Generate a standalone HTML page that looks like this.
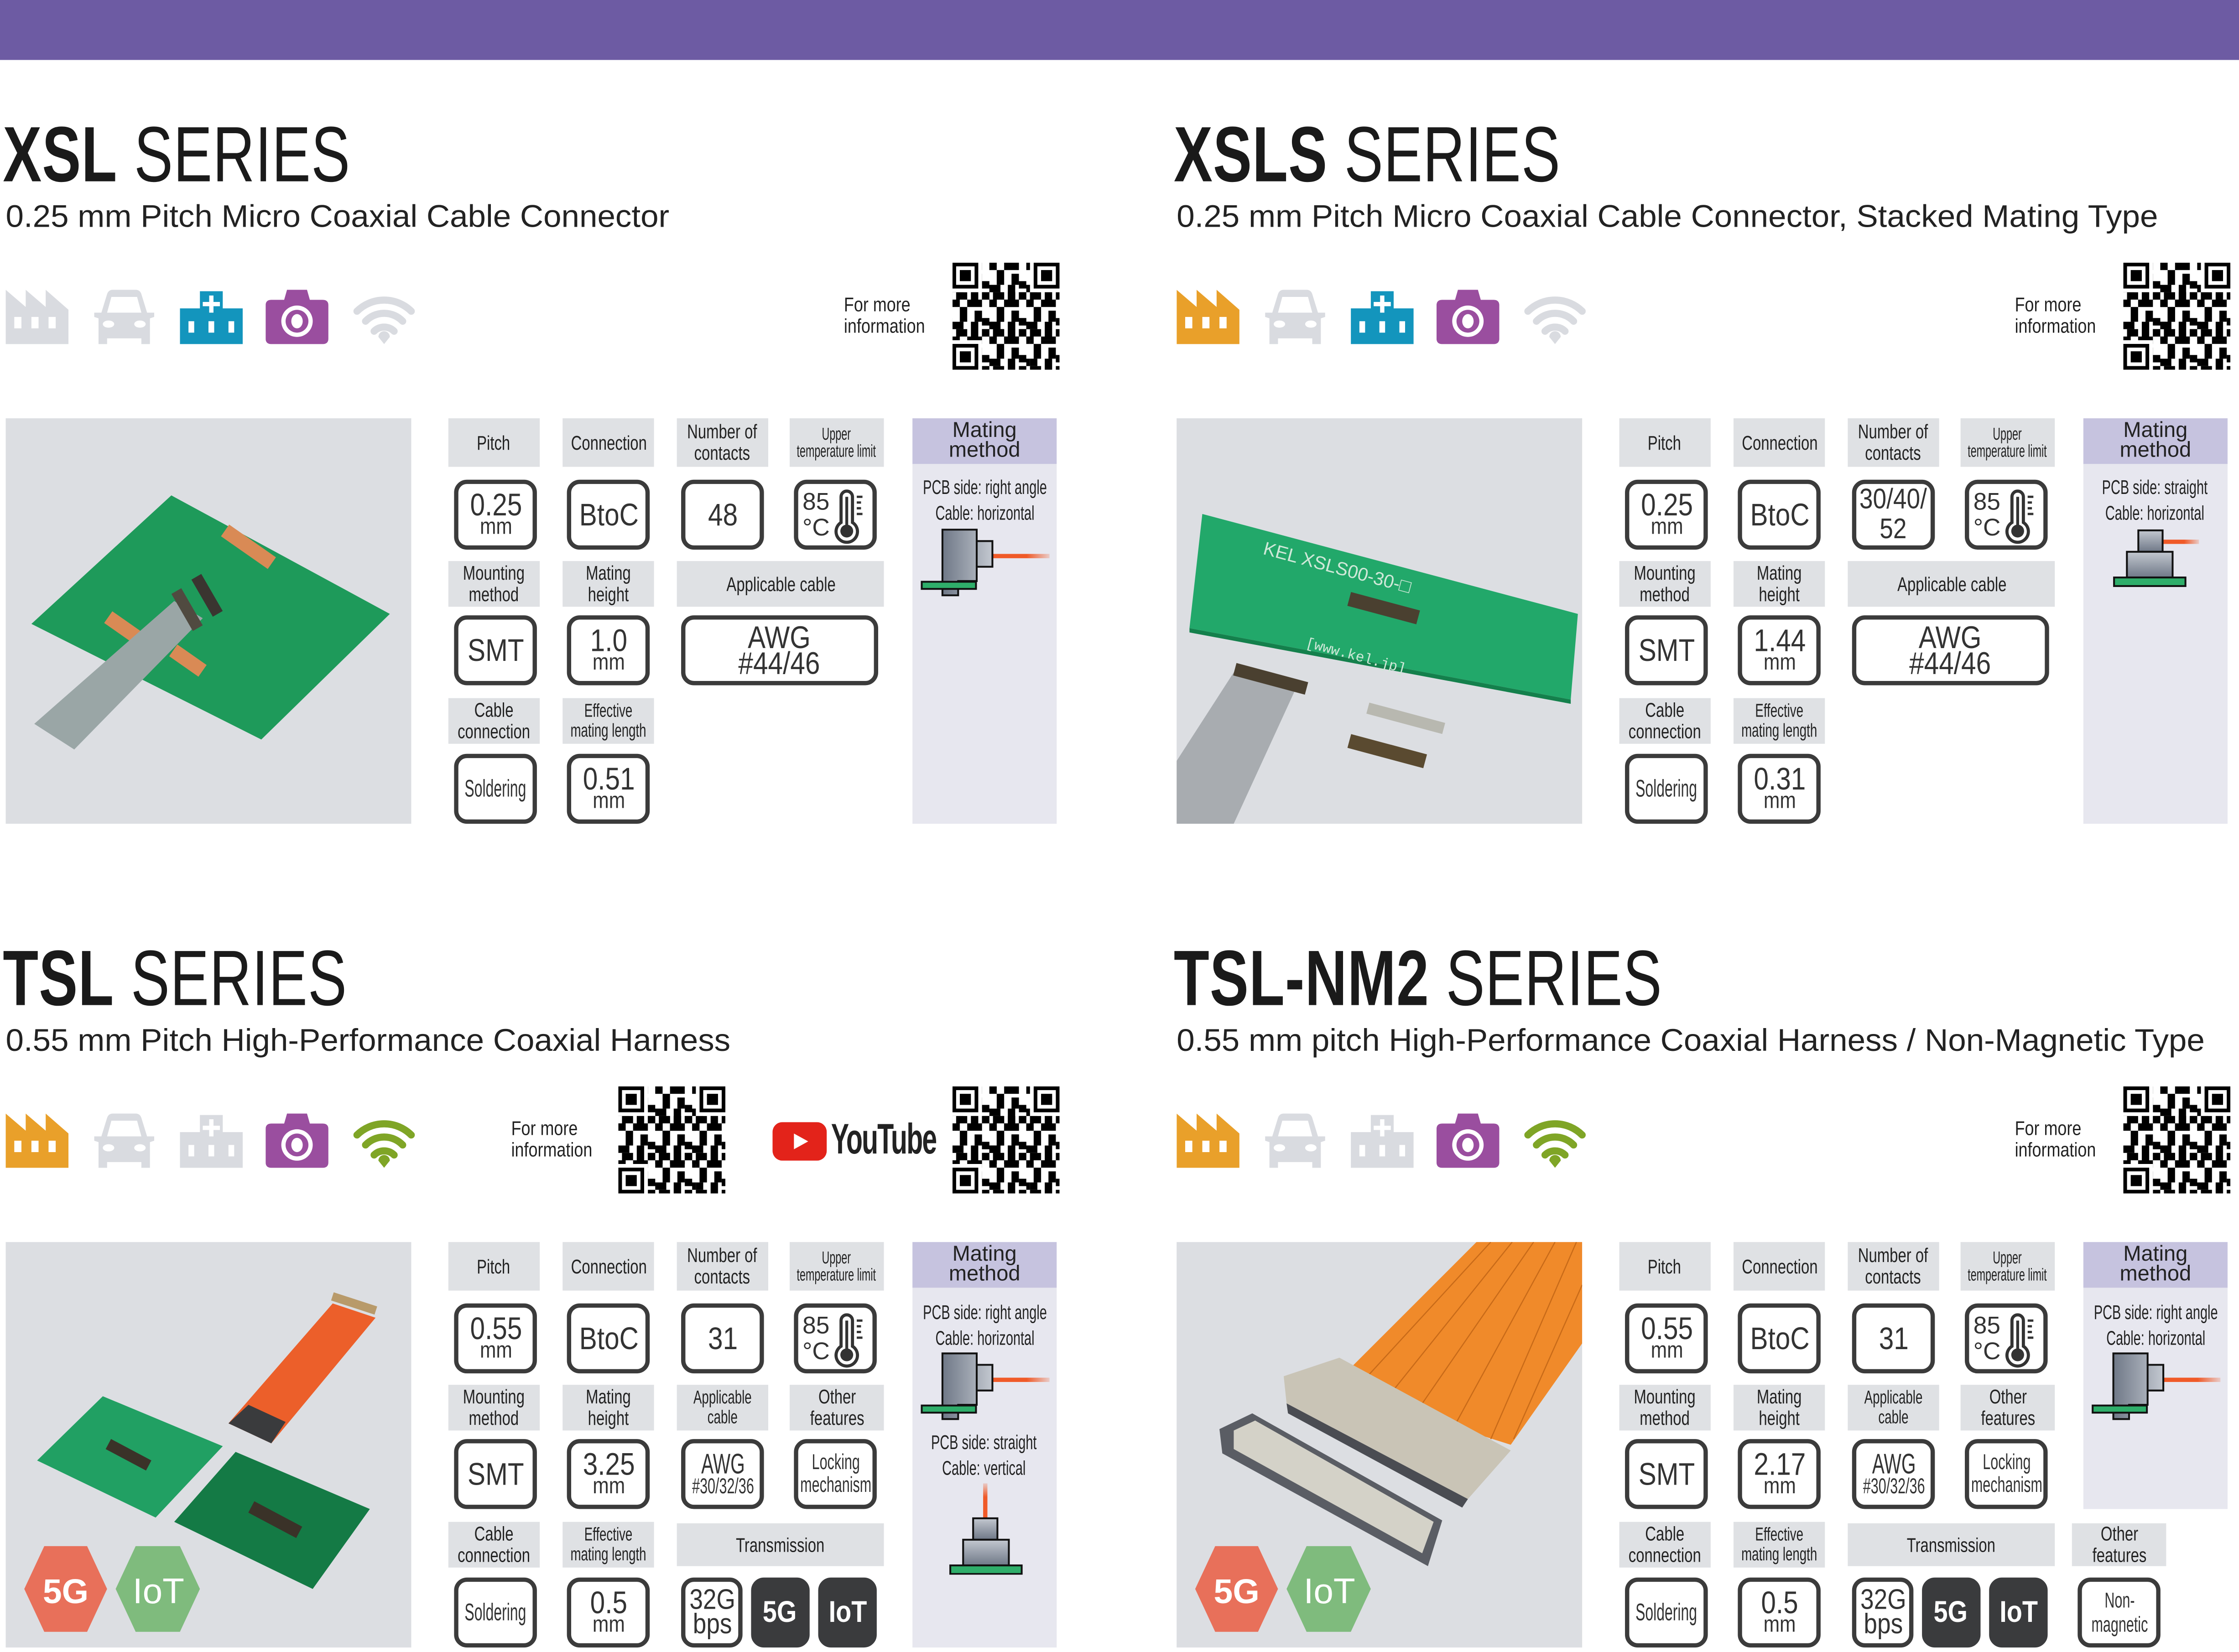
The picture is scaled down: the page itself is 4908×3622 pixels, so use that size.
<!DOCTYPE html>
<html><head><meta charset="utf-8">
<style>
html,body{margin:0;padding:0;background:#fff;}
body{width:4908px;height:3619px;overflow:hidden;position:relative;}
#s{position:absolute;left:0;top:0;width:1568px;height:1157px;transform:scale(3.1301);transform-origin:0 0;font-family:"Liberation Sans",sans-serif;color:#1a1a1a;}
.bar{position:absolute;left:0;top:0;width:1568px;height:42px;background:#6d5ba3;}
.p{position:absolute;width:784px;height:578px;}
.p>*{position:absolute;}
.ttl{top:80px;left:2px;font-size:55px;line-height:56px;white-space:nowrap;transform:scaleX(0.74);transform-origin:0 0;letter-spacing:0.5px}
.ttl b{font-weight:bold}
.sub{top:139px;left:4px;font-size:22px;line-height:26px;white-space:nowrap;transform:scaleX(1.03);transform-origin:0 0;color:#222}
.ic{top:202px;width:44px;height:40px}
.fm{font-size:14px;line-height:15px;color:#222;text-align:left;white-space:nowrap;transform:scaleX(0.82);transform-origin:0 0}
.qr{width:75px;height:75px}
.ph{left:4px;top:293px;width:284px;height:284px;background:#dcdee2}
span{display:inline-block;white-space:nowrap;transform:scaleX(.75)}
.l{background:#dfe1e4;display:flex;align-items:center;justify-content:center;text-align:center;font-size:14px;line-height:15px;color:#222}
.l.s span{transform:scaleX(.62)}
.l.s{font-size:12px;line-height:12px}
.l.e span{transform:scaleX(.68)}
.l.e{font-size:13px;line-height:14px}
.v{border:3px solid #3b3b3b;border-radius:9px;background:#fff;box-sizing:border-box;display:flex;align-items:center;justify-content:center;color:#333;font-size:22px;line-height:18px;text-align:center;width:58px;height:49px}
.v span{transform:scaleX(.85)}
.v small{display:block;font-size:16px;line-height:14px}
.v.n{font-size:17px;line-height:17px}
.v.n span{transform:scaleX(.6)}
.v.k{font-size:15px;line-height:16px}
.v.k span{transform:scaleX(.65)}
.v.d{background:#3a3b3d;border-color:#3a3b3d;color:#fff;font-size:21px;font-weight:bold}
.mh{background:#c6c3df;display:flex;align-items:center;justify-content:center;text-align:center;font-size:15px;line-height:14px;color:#222}
.mb{background:#e7e7ef}
.mt{font-size:14px;line-height:18px;color:#222;text-align:center;width:101px;display:flex;justify-content:center}
.mt span{transform:scaleX(.66)}
</style></head><body>
<svg width="0" height="0" style="position:absolute">
<defs>
<symbol id="fac" viewBox="0 0 44 38"><path d="M0 38V0l14 12V0l14 12V0l16 14v24z" fill="currentColor"/><rect x="6" y="19" width="5" height="8" fill="#fff"/><rect x="18" y="19" width="5" height="8" fill="#fff"/><rect x="30" y="19" width="5" height="8" fill="#fff"/></symbol>
<symbol id="car" viewBox="0 0 44 38"><path d="M4 38V20l-3-1v-3l5 0 4-13q1-3 4-3h16q3 0 4 3l4 13 5 0v3l-3 1v18h-6v-4H10v4z" fill="currentColor"/><path d="M10 16l3-11h18l3 11z" fill="#fff"/><ellipse cx="11" cy="24" rx="4" ry="2.5" fill="#fff"/><ellipse cx="33" cy="24" rx="4" ry="2.5" fill="#fff"/></symbol>
<symbol id="hos" viewBox="0 0 44 38"><path d="M0 38V13h14V1h16v12h14v25z" fill="currentColor"/><rect x="20.5" y="4" width="3" height="12" fill="#fff"/><rect x="16" y="8.5" width="12" height="3" fill="#fff"/><rect x="6" y="22" width="4" height="8" fill="#fff"/><rect x="20" y="22" width="4" height="8" fill="#fff"/><rect x="34" y="22" width="4" height="8" fill="#fff"/></symbol>
<symbol id="cam" viewBox="0 0 44 38"><path d="M0 11q0-4 4-4h9l2-7h14l2 7h9q4 0 4 4v23q0 4-4 4H4q-4 0-4-4z" fill="currentColor"/><circle cx="22" cy="22" r="11" fill="#fff"/><circle cx="22" cy="22" r="8" fill="currentColor"/><ellipse cx="22" cy="22" rx="4" ry="5" fill="#fff"/></symbol>
<symbol id="wif" viewBox="0 0 44 38"><g fill="none" stroke="currentColor" stroke-width="5" stroke-linecap="round"><path d="M3 15A27 27 0 0 1 41 15"/><path d="M9 22A18 18 0 0 1 35 22"/><path d="M15 29A10 10 0 0 1 29 29"/></g><path d="M18 33a4 4 0 0 1 8 0l-4 5z" fill="currentColor"/></symbol>
<pattern id="qp" width="10" height="10" patternUnits="userSpaceOnUse"><rect x="0" y="0" width="2" height="2"/><rect x="4" y="0" width="4" height="2"/><rect x="2" y="2" width="2" height="4"/><rect x="6" y="3" width="2" height="3"/><rect x="0" y="6" width="3" height="2"/><rect x="5" y="6" width="2" height="4"/><rect x="8" y="5" width="2" height="2"/><rect x="1" y="8" width="3" height="2"/><rect x="8" y="8" width="2" height="2"/></pattern>
<symbol id="qr" viewBox="0 0 29 29"><rect x="8" y="0" width="13" height="29" fill="url(#qp)"/><rect x="0" y="8" width="29" height="13" fill="url(#qp)"/><rect x="21" y="21" width="8" height="8" fill="url(#qp)"/><g><rect x="0" y="0" width="7" height="7"/><rect x="1" y="1" width="5" height="5" fill="#fff"/><rect x="2" y="2" width="3" height="3"/><rect x="22" y="0" width="7" height="7"/><rect x="23" y="1" width="5" height="5" fill="#fff"/><rect x="24" y="2" width="3" height="3"/><rect x="0" y="22" width="7" height="7"/><rect x="1" y="23" width="5" height="5" fill="#fff"/><rect x="2" y="24" width="3" height="3"/></g></symbol>
<symbol id="th" viewBox="0 0 52 43"><text x="3" y="18" font-family="Liberation Sans" font-size="17" fill="#333">85</text><text x="3" y="36" font-family="Liberation Sans" font-size="17" fill="#333">°C</text><path d="M30 27V9a4 4 0 0 1 8 0v18a7.5 7.5 0 1 1 -8 0z" fill="none" stroke="#333" stroke-width="2.2"/><rect x="33" y="9" width="2" height="20" fill="#333"/><circle cx="34" cy="33" r="4.5" fill="#333"/><g stroke="#333" stroke-width="1.6"><line x1="41" y1="9" x2="45" y2="9"/><line x1="41" y1="13" x2="44" y2="13"/><line x1="41" y1="17" x2="44" y2="17"/><line x1="41" y1="21" x2="45" y2="21"/></g></symbol>
<linearGradient id="gb" x1="0" x2="1" y1="0" y2="0"><stop offset="0" stop-color="#6f7887"/><stop offset="1" stop-color="#c3c8d0"/></linearGradient>
<linearGradient id="gv" x1="0" x2="0" y1="0" y2="1"><stop offset="0" stop-color="#c3c8d0"/><stop offset="1" stop-color="#6f7887"/></linearGradient>
<linearGradient id="go" x1="0" x2="1"><stop offset="0.6" stop-color="#f05a28"/><stop offset="1" stop-color="#f05a28" stop-opacity="0.2"/></linearGradient>
<linearGradient id="gou" x1="0" x2="0" y1="1" y2="0"><stop offset="0.6" stop-color="#f05a28"/><stop offset="1" stop-color="#f05a28" stop-opacity="0.2"/></linearGradient>
<symbol id="ra" viewBox="0 0 101 50"><rect x="56" y="18" width="40" height="3" fill="url(#go)"/><path d="M21 1h24v8h11v18H45v10H32v10H21z" fill="url(#gb)" stroke="#111" stroke-width="1.3"/><line x1="45" y1="9" x2="45" y2="27" stroke="#111" stroke-width="1.3"/><rect x="6.5" y="37.5" width="38" height="5" fill="#2fae6a" stroke="#111" stroke-width="1.3"/></symbol>
<symbol id="sh" viewBox="0 0 101 50"><rect x="55" y="8" width="26" height="3" fill="url(#go)"/><rect x="38.5" y="1.5" width="17" height="15" fill="url(#gv)" stroke="#111" stroke-width="1.3"/><rect x="30.5" y="16.5" width="32" height="18" fill="url(#gv)" stroke="#111" stroke-width="1.3"/><rect x="21.5" y="34.5" width="50" height="6" fill="#2fae6a" stroke="#111" stroke-width="1.3"/></symbol>
<symbol id="sv" viewBox="0 0 101 64"><rect x="49.5" y="0" width="3" height="24" fill="url(#gou)"/><rect x="42.5" y="24.5" width="17" height="15" fill="url(#gv)" stroke="#111" stroke-width="1.3"/><rect x="35.5" y="39.5" width="32" height="18" fill="url(#gv)" stroke="#111" stroke-width="1.3"/><rect x="26.5" y="57.5" width="50" height="6" fill="#2fae6a" stroke="#111" stroke-width="1.3"/></symbol>
</defs></svg>

<div id="s">
<div class="bar"></div>

<!-- XSL -->
<div class="p" style="left:0;top:0">
 <div class="ttl"><b>XSL</b> SERIES</div>
 <div class="sub">0.25 mm Pitch Micro Coaxial Cable Connector</div>
 <svg class="ic" style="left:4px;color:#d9dbe0"><use href="#fac"/></svg>
 <svg class="ic" style="left:65px;color:#d9dbe0"><use href="#car"/></svg>
 <svg class="ic" style="left:126px;color:#1395bd"><use href="#hos"/></svg>
 <svg class="ic" style="left:186px;color:#9a4e9f"><use href="#cam"/></svg>
 <svg class="ic" style="left:247px;color:#d9dbe0"><use href="#wif"/></svg>
 <div class="fm" style="left:591px;top:206px">For more<br>information</div>
 <svg class="qr" style="left:667px;top:184px"><use href="#qr"/></svg>
 <svg class="ph" viewBox="0 0 284 284"><polygon points="116,54 18,144 179,225 269,137" fill="#1e9a5a"/><g fill="#d98a55"><rect x="150" y="85" width="40" height="10" transform="rotate(35 170 90)"/><rect x="70" y="140" width="25" height="10" transform="rotate(35 80 145)"/><rect x="115" y="165" width="25" height="10" transform="rotate(35 128 170)"/></g><polygon points="118,128 138,140 48,232 20,214" fill="#9aa6a6"/><rect x="126" y="120" width="30" height="8" fill="#3a3530" transform="rotate(60 141 124)"/><rect x="112" y="130" width="30" height="8" fill="#504a40" transform="rotate(60 127 134)"/></svg>
 <div class="l" style="left:314px;top:293px;width:64px;height:34px"><span>Pitch</span></div>
 <div class="l" style="left:394px;top:293px;width:64px;height:34px"><span>Connection</span></div>
 <div class="l" style="left:474px;top:293px;width:64px;height:34px"><span>Number of<br>contacts</span></div>
 <div class="l s" style="left:553px;top:293px;width:66px;height:34px"><span>Upper<br>temperature limit</span></div>
 <div class="v" style="left:318px;top:336px"><span>0.25<small>mm</small></span></div>
 <div class="v" style="left:397px;top:336px"><span>BtoC</span></div>
 <div class="v" style="left:477px;top:336px"><span>48</span></div>
 <div class="v" style="left:556px;top:336px"><svg width="52" height="43"><use href="#th"/></svg></div>
 <div class="l" style="left:314px;top:393px;width:64px;height:32px"><span>Mounting<br>method</span></div>
 <div class="l" style="left:394px;top:393px;width:64px;height:32px"><span>Mating<br>height</span></div>
 <div class="l" style="left:474px;top:393px;width:145px;height:32px"><span>Applicable cable</span></div>
 <div class="v" style="left:318px;top:431px"><span>SMT</span></div>
 <div class="v" style="left:397px;top:431px"><span>1.0<small>mm</small></span></div>
 <div class="v" style="left:477px;top:431px;width:138px"><span>AWG<br>#44/46</span></div>
 <div class="l" style="left:314px;top:489px;width:64px;height:32px"><span>Cable<br>connection</span></div>
 <div class="l e" style="left:394px;top:489px;width:64px;height:32px"><span>Effective<br>mating length</span></div>
 <div class="v n" style="left:318px;top:528px"><span>Soldering</span></div>
 <div class="v" style="left:397px;top:528px"><span>0.51<small>mm</small></span></div>
 <div class="mb" style="left:639px;top:325px;width:101px;height:252px"></div>
 <div class="mh" style="left:639px;top:293px;width:101px;height:32px">Mating<br>method</div>
 <div class="mt" style="left:639px;top:332px"><span>PCB side: right angle<br>Cable: horizontal</span></div>
 <svg style="left:639px;top:370px;width:101px;height:50px"><use href="#ra"/></svg>
</div>

<!-- XSLS -->
<div class="p" style="left:820px;top:0">
 <div class="ttl"><b>XSLS</b> SERIES</div>
 <div class="sub">0.25 mm Pitch Micro Coaxial Cable Connector, Stacked Mating Type</div>
 <svg class="ic" style="left:4px;color:#e9a02a"><use href="#fac"/></svg>
 <svg class="ic" style="left:65px;color:#d9dbe0"><use href="#car"/></svg>
 <svg class="ic" style="left:126px;color:#1395bd"><use href="#hos"/></svg>
 <svg class="ic" style="left:186px;color:#9a4e9f"><use href="#cam"/></svg>
 <svg class="ic" style="left:247px;color:#d9dbe0"><use href="#wif"/></svg>
 <div class="fm" style="left:591px;top:206px">For more<br>information</div>
 <svg class="qr" style="left:667px;top:184px"><use href="#qr"/></svg>
 <svg class="ph" viewBox="0 0 284 284"><polygon points="18,67 281,137 276,197 9,147" fill="#22a86a"/><polygon points="9,147 276,197 276,200 9,150" fill="#14804c"/><text x="60" y="95" font-family="Liberation Sans" font-size="13" fill="#cfe8d8" transform="rotate(15 60 95)">KEL   XSLS00-30-□</text><text x="90" y="160" font-family="Liberation Mono" font-size="10" fill="#cfe8d8" transform="rotate(15 90 160)">[www.kel.jp]</text><rect x="120" y="128" width="50" height="10" fill="#4a4030" transform="rotate(15 145 133)"/><polygon points="0,284 0,240 40,178 85,186 40,284" fill="#a8acb0"/><rect x="40" y="178" width="52" height="9" fill="#4a4030" transform="rotate(15 66 182)"/><rect x="133" y="206" width="55" height="8" fill="#b8b8b0" transform="rotate(15 160 210)"/><rect x="120" y="228" width="55" height="10" fill="#5a4a30" transform="rotate(15 147 233)"/></svg>
 <div class="l" style="left:314px;top:293px;width:64px;height:34px"><span>Pitch</span></div>
 <div class="l" style="left:394px;top:293px;width:64px;height:34px"><span>Connection</span></div>
 <div class="l" style="left:474px;top:293px;width:64px;height:34px"><span>Number of<br>contacts</span></div>
 <div class="l s" style="left:553px;top:293px;width:66px;height:34px"><span>Upper<br>temperature limit</span></div>
 <div class="v" style="left:318px;top:336px"><span>0.25<small>mm</small></span></div>
 <div class="v" style="left:397px;top:336px"><span>BtoC</span></div>
 <div class="v" style="left:477px;top:336px;font-size:20px;line-height:21px"><span>30/40/<br>52</span></div>
 <div class="v" style="left:556px;top:336px"><svg width="52" height="43"><use href="#th"/></svg></div>
 <div class="l" style="left:314px;top:393px;width:64px;height:32px"><span>Mounting<br>method</span></div>
 <div class="l" style="left:394px;top:393px;width:64px;height:32px"><span>Mating<br>height</span></div>
 <div class="l" style="left:474px;top:393px;width:145px;height:32px"><span>Applicable cable</span></div>
 <div class="v" style="left:318px;top:431px"><span>SMT</span></div>
 <div class="v" style="left:397px;top:431px"><span>1.44<small>mm</small></span></div>
 <div class="v" style="left:477px;top:431px;width:138px"><span>AWG<br>#44/46</span></div>
 <div class="l" style="left:314px;top:489px;width:64px;height:32px"><span>Cable<br>connection</span></div>
 <div class="l e" style="left:394px;top:489px;width:64px;height:32px"><span>Effective<br>mating length</span></div>
 <div class="v n" style="left:318px;top:528px"><span>Soldering</span></div>
 <div class="v" style="left:397px;top:528px"><span>0.31<small>mm</small></span></div>
 <div class="mb" style="left:639px;top:325px;width:101px;height:252px"></div>
 <div class="mh" style="left:639px;top:293px;width:101px;height:32px">Mating<br>method</div>
 <div class="mt" style="left:639px;top:332px"><span>PCB side: straight<br>Cable: horizontal</span></div>
 <svg style="left:639px;top:370px;width:101px;height:50px"><use href="#sh"/></svg>
</div>

<!-- TSL -->
<div class="p" style="left:0;top:577px">
 <div class="ttl"><b>TSL</b> SERIES</div>
 <div class="sub">0.55 mm Pitch High-Performance Coaxial Harness</div>
 <svg class="ic" style="left:4px;color:#e9a02a"><use href="#fac"/></svg>
 <svg class="ic" style="left:65px;color:#d9dbe0"><use href="#car"/></svg>
 <svg class="ic" style="left:126px;color:#d9dbe0"><use href="#hos"/></svg>
 <svg class="ic" style="left:186px;color:#9a4e9f"><use href="#cam"/></svg>
 <svg class="ic" style="left:247px;color:#7fa526"><use href="#wif"/></svg>
 <div class="fm" style="left:358px;top:206px">For more<br>information</div>
 <svg class="qr" style="left:433px;top:184px"><use href="#qr"/></svg>
 <svg style="left:541px;top:209px;width:38px;height:27px" viewBox="0 0 38 27"><rect x="0" y="0" width="38" height="27" rx="7" fill="#e3231a"/><path d="M15 8l10 5.5-10 5.5z" fill="#fff"/></svg>
 <div style="left:582px;top:205px;font-weight:bold;font-size:30px;line-height:34px;color:#222;letter-spacing:-1px;white-space:nowrap;transform:scaleX(.63);transform-origin:0 0">YouTube</div>
 <svg class="qr" style="left:667px;top:184px"><use href="#qr"/></svg>
 <svg class="ph" viewBox="0 0 284 284"><polygon points="68,108 22,153 105,193 152,143" fill="#21a063"/><polygon points="161,147 118,196 215,243 255,187" fill="#147a45"/><rect x="70" y="145" width="32" height="8" fill="#3a3228" transform="rotate(28 86 149)"/><rect x="170" y="190" width="38" height="9" fill="#3a3228" transform="rotate(28 189 194)"/><polygon points="156,127 186,141 259,53 229,43" fill="#ec5f2a"/><polygon points="156,127 186,141 196,126 170,114" fill="#3a3b3d"/><rect x="228" y="40" width="32" height="6" fill="#b89a6a" transform="rotate(18 244 43)"/><polygon points="13,243 27,213 57,213 71,243 57,273 27,273" fill="#e8705a"/><polygon points="77,243 91,213 122,213 136,243 122,273 91,273" fill="#7fbb7d"/><text x="42" y="253" text-anchor="middle" font-family="Liberation Sans" font-weight="bold" font-size="24" fill="#fff">5G</text><text x="107" y="253" text-anchor="middle" font-family="Liberation Sans" font-size="25" fill="#fff">IoT</text></svg>
 <div class="l" style="left:314px;top:293px;width:64px;height:34px"><span>Pitch</span></div>
 <div class="l" style="left:394px;top:293px;width:64px;height:34px"><span>Connection</span></div>
 <div class="l" style="left:474px;top:293px;width:64px;height:34px"><span>Number of<br>contacts</span></div>
 <div class="l s" style="left:553px;top:293px;width:66px;height:34px"><span>Upper<br>temperature limit</span></div>
 <div class="v" style="left:318px;top:336px"><span>0.55<small>mm</small></span></div>
 <div class="v" style="left:397px;top:336px"><span>BtoC</span></div>
 <div class="v" style="left:477px;top:336px"><span>31</span></div>
 <div class="v" style="left:556px;top:336px"><svg width="52" height="43"><use href="#th"/></svg></div>
 <div class="l" style="left:314px;top:393px;width:64px;height:32px"><span>Mounting<br>method</span></div>
 <div class="l" style="left:394px;top:393px;width:64px;height:32px"><span>Mating<br>height</span></div>
 <div class="l e" style="left:474px;top:393px;width:64px;height:32px"><span>Applicable<br>cable</span></div>
 <div class="l" style="left:553px;top:393px;width:66px;height:32px"><span>Other<br>features</span></div>
 <div class="v" style="left:318px;top:431px"><span>SMT</span></div>
 <div class="v" style="left:397px;top:431px"><span>3.25<small>mm</small></span></div>
 <div class="v k" style="left:477px;top:431px;font-size:20px;line-height:18px"><span>AWG<small style="font-size:15px">#30/32/36</small></span></div>
 <div class="v k" style="left:556px;top:431px"><span>Locking<br>mechanism</span></div>
 <div class="l" style="left:314px;top:489px;width:64px;height:32px"><span>Cable<br>connection</span></div>
 <div class="l e" style="left:394px;top:489px;width:64px;height:32px"><span>Effective<br>mating length</span></div>
 <div class="l" style="left:474px;top:490px;width:145px;height:30px"><span>Transmission</span></div>
 <div class="v n" style="left:318px;top:528px"><span>Soldering</span></div>
 <div class="v" style="left:397px;top:528px"><span>0.5<small>mm</small></span></div>
 <div class="v" style="left:477px;top:528px;width:43px;font-size:20px;line-height:17px"><span>32G<br>bps</span></div>
 <div class="v d" style="left:526px;top:528px;width:41px"><span>5G</span></div>
 <div class="v d" style="left:573px;top:528px;width:41px"><span>IoT</span></div>
 <div class="mb" style="left:639px;top:325px;width:101px;height:252px"></div>
 <div class="mh" style="left:639px;top:293px;width:101px;height:32px">Mating<br>method</div>
 <div class="mt" style="left:639px;top:333px"><span>PCB side: right angle<br>Cable: horizontal</span></div>
 <div class="mt" style="left:639px;top:424px"><span>PCB side: straight<br>Cable: vertical</span></div>
 <svg style="left:639px;top:370px;width:101px;height:50px"><use href="#ra"/></svg>
 <svg style="left:639px;top:462px;width:101px;height:64px"><use href="#sv"/></svg>
</div>

<!-- TSL-NM2 -->
<div class="p" style="left:820px;top:577px">
 <div class="ttl"><b>TSL-NM2</b> SERIES</div>
 <div class="sub">0.55 mm pitch High-Performance Coaxial Harness / Non-Magnetic Type</div>
 <svg class="ic" style="left:4px;color:#e9a02a"><use href="#fac"/></svg>
 <svg class="ic" style="left:65px;color:#d9dbe0"><use href="#car"/></svg>
 <svg class="ic" style="left:126px;color:#d9dbe0"><use href="#hos"/></svg>
 <svg class="ic" style="left:186px;color:#9a4e9f"><use href="#cam"/></svg>
 <svg class="ic" style="left:247px;color:#7fa526"><use href="#wif"/></svg>
 <div class="fm" style="left:591px;top:206px">For more<br>information</div>
 <svg class="qr" style="left:667px;top:184px"><use href="#qr"/></svg>
 <svg class="ph" viewBox="0 0 284 284"><polygon points="210,0 284,0 284,71 234,142 193,129 156,113 116,94" fill="#f08a2a"/><g stroke="#c86a18" stroke-width="0.8"><line x1="220" y1="0" x2="130" y2="98"/><line x1="235" y1="0" x2="150" y2="106"/><line x1="250" y1="0" x2="170" y2="116"/><line x1="265" y1="0" x2="195" y2="128"/><line x1="280" y1="0" x2="220" y2="138"/><line x1="284" y1="30" x2="236" y2="138"/></g><polygon points="75,94 114,81 234,146 204,180 77,113" fill="#c9c4b6"/><polygon points="77,113 204,180 200,186 78,120" fill="#4a4c52"/><polygon points="30,131 53,120 186,195 176,227 32,148" fill="#5a5d64"/><polygon points="40,132 55,125 180,196 172,218 40,145" fill="#d4d2c8"/><polygon points="13,243 27,213 57,213 71,243 57,273 27,273" fill="#e8705a"/><polygon points="77,243 91,213 122,213 136,243 122,273 91,273" fill="#7fbb7d"/><text x="42" y="253" text-anchor="middle" font-family="Liberation Sans" font-weight="bold" font-size="24" fill="#fff">5G</text><text x="107" y="253" text-anchor="middle" font-family="Liberation Sans" font-size="25" fill="#fff">IoT</text></svg>
 <div class="l" style="left:314px;top:293px;width:64px;height:34px"><span>Pitch</span></div>
 <div class="l" style="left:394px;top:293px;width:64px;height:34px"><span>Connection</span></div>
 <div class="l" style="left:474px;top:293px;width:64px;height:34px"><span>Number of<br>contacts</span></div>
 <div class="l s" style="left:553px;top:293px;width:66px;height:34px"><span>Upper<br>temperature limit</span></div>
 <div class="v" style="left:318px;top:336px"><span>0.55<small>mm</small></span></div>
 <div class="v" style="left:397px;top:336px"><span>BtoC</span></div>
 <div class="v" style="left:477px;top:336px"><span>31</span></div>
 <div class="v" style="left:556px;top:336px"><svg width="52" height="43"><use href="#th"/></svg></div>
 <div class="l" style="left:314px;top:393px;width:64px;height:32px"><span>Mounting<br>method</span></div>
 <div class="l" style="left:394px;top:393px;width:64px;height:32px"><span>Mating<br>height</span></div>
 <div class="l e" style="left:474px;top:393px;width:64px;height:32px"><span>Applicable<br>cable</span></div>
 <div class="l" style="left:553px;top:393px;width:66px;height:32px"><span>Other<br>features</span></div>
 <div class="v" style="left:318px;top:431px"><span>SMT</span></div>
 <div class="v" style="left:397px;top:431px"><span>2.17<small>mm</small></span></div>
 <div class="v k" style="left:477px;top:431px;font-size:20px;line-height:18px"><span>AWG<small style="font-size:15px">#30/32/36</small></span></div>
 <div class="v k" style="left:556px;top:431px"><span>Locking<br>mechanism</span></div>
 <div class="l" style="left:314px;top:489px;width:64px;height:32px"><span>Cable<br>connection</span></div>
 <div class="l e" style="left:394px;top:489px;width:64px;height:32px"><span>Effective<br>mating length</span></div>
 <div class="l" style="left:474px;top:490px;width:145px;height:30px"><span>Transmission</span></div>
 <div class="l" style="left:631px;top:490px;width:66px;height:30px"><span>Other<br>features</span></div>
 <div class="v n" style="left:318px;top:528px"><span>Soldering</span></div>
 <div class="v" style="left:397px;top:528px"><span>0.5<small>mm</small></span></div>
 <div class="v" style="left:477px;top:528px;width:43px;font-size:20px;line-height:17px"><span>32G<br>bps</span></div>
 <div class="v d" style="left:526px;top:528px;width:41px"><span>5G</span></div>
 <div class="v d" style="left:573px;top:528px;width:41px"><span>IoT</span></div>
 <div class="v k" style="left:635px;top:528px;line-height:17px"><span>Non-<br>magnetic</span></div>
 <div class="mb" style="left:639px;top:325px;width:101px;height:155px"></div>
 <div class="mh" style="left:639px;top:293px;width:101px;height:32px">Mating<br>method</div>
 <div class="mt" style="left:639px;top:333px"><span>PCB side: right angle<br>Cable: horizontal</span></div>
 <svg style="left:639px;top:370px;width:101px;height:50px"><use href="#ra"/></svg>
</div>
</div>
</body></html>
